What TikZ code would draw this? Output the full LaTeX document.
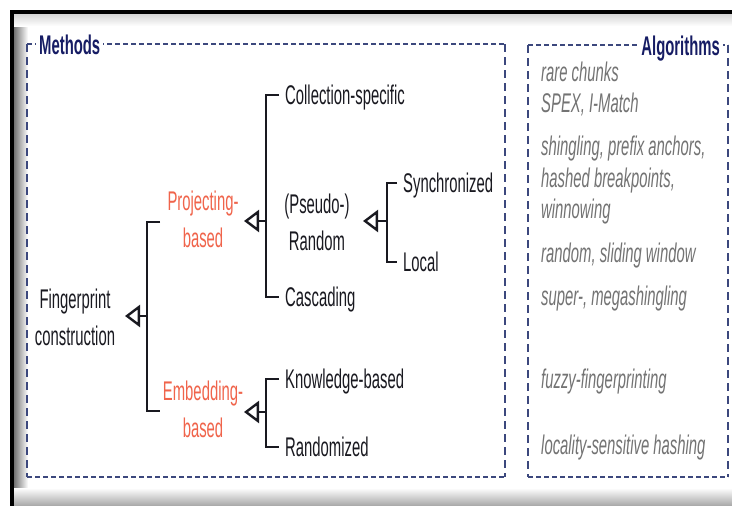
\documentclass[tikz,border=0pt]{standalone}
\usepackage{fontspec}
\setmainfont{Liberation Sans}[FakeStretch=0.55]
\usetikzlibrary{arrows.meta}
\definecolor{dashc}{RGB}{60,72,125}
\definecolor{navy}{RGB}{22,28,100}
\definecolor{redt}{RGB}{240,100,75}
\definecolor{algo}{RGB}{115,115,115}
\definecolor{ink}{RGB}{25,25,32}
\newcommand\tsz{\fontsize{27}{37}\selectfont}
\begin{document}
\begin{tikzpicture}[x=1pt,y=-1pt,
  lbl/.style={font=\tsz, text=ink, inner sep=3pt, text height=19pt, text depth=1pt, anchor=base west},
  grp/.style={font=\tsz, align=center, inner sep=3pt},
  alg/.style={font=\tsz\itshape, text=algo, inner sep=0pt, anchor=base west},
  ttl/.style={font=\tsz\bfseries, text=navy, fill=white, inner sep=3pt},
  br/.style={draw=ink, line width=2.8pt, shorten <=3pt, shorten >=3pt},
  brr/.style={draw=ink, line width=2.8pt},
  arr/.style={draw=ink, line width=2.8pt, -{Triangle[open,length=15pt,width=22pt,line width=2.4pt]}},
  dh/.style={draw=dashc, line width=1.8pt, dash pattern=on 5pt off 3pt},
  dv/.style={draw=dashc, line width=1.6pt, dash pattern=on 8pt off 5pt},
]
\useasboundingbox (0,0) rectangle (732,506);
\fill[white] (0,0) rectangle (732,506);
% frame
\shade[left color=black!55, right color=white] (14,13) rectangle (28,506);
\shade[top color=black!18, bottom color=white] (14,13) rectangle (732,26);
\shade[top color=white, bottom color=black!35] (14,488) rectangle (732,506);
\fill[black] (10,10) rectangle (732,13.5);
\fill[black] (10,10) rectangle (14,506);
% dashed boxes
\draw[dh] (27,44) -- (505,44);
\draw[dh] (27,477) -- (505,477);
\draw[dv] (27,44) -- (27,477);
\draw[dv] (505,44) -- (505,477);
\draw[dh] (528,45) -- (728,45);
\draw[dh] (528,477) -- (728,477);
\draw[dv] (528,45) -- (528,477);
\draw[dv] (728,45) -- (728,477);
\node[ttl, anchor=base west] (mt) at (36,54) {Methods};
\node[ttl, anchor=base east] (at) at (723,55) {Algorithms};
% tree nodes
\node[grp, text=ink] (fp) at (75,317) {Fingerprint\\construction};
\node[grp, text=redt] (proj) at (203,219) {Projecting-\\based};
\node[grp, text=redt] (emb) at (203,409) {Embedding-\\based};
\node[grp, text=ink] (pseudo) at (317,222) {(Pseudo-)\\Random};
\node[lbl] (cs) at (282,104) {Collection-specific};
\node[lbl] (casc) at (282,306) {Cascading};
\node[lbl] (sync) at (400,192) {Synchronized};
\node[lbl] (loc) at (400,271) {Local};
\node[lbl] (kb) at (282,388) {Knowledge-based};
\node[lbl] (rnd) at (282,456) {Randomized};
% bracket coordinates
\coordinate (vR) at (147,316); \coordinate (tR) at (125,316);
\coordinate (pT) at (160,222); \coordinate (eT) at (160,411);
\coordinate (vP) at (266,221); \coordinate (tP) at (244,221);
\coordinate (vS) at (387,221); \coordinate (tS) at (363,221);
\coordinate (vE) at (266,412); \coordinate (tE) at (244,412);
% brackets
\draw[brr] (pT) -| (vR) |- (eT);
\draw[br] (cs.west) -| (vP) |- (casc.west);
\draw[br] (sync.west) -| (vS) |- (loc.west);
\draw[br] (kb.west) -| (vE) |- (rnd.west);
% arrows
\draw[arr] (vR) -- (tR);
\draw[arr] (vP) -- (tP);
\draw[arr] (vS) -- (tS);
\draw[arr] (vE) -- (tE);
% algorithms
\node[alg] (a1) at (541,81) {rare chunks};
\node[alg] (a2) at (541,112) {SPEX, I-Match};
\node[alg] (a3) at (541,155) {shingling, prefix anchors,};
\node[alg] (a4) at (541,187) {hashed breakpoints,};
\node[alg] (a5) at (541,218) {winnowing};
\node[alg] (a6) at (541,262) {random, sliding window};
\node[alg] (a7) at (541,305) {super-, megashingling};
\node[alg] (a8) at (541,388) {fuzzy-fingerprinting};
\node[alg] (a9) at (541,454) {locality-sensitive hashing};
\end{tikzpicture}
\end{document}
